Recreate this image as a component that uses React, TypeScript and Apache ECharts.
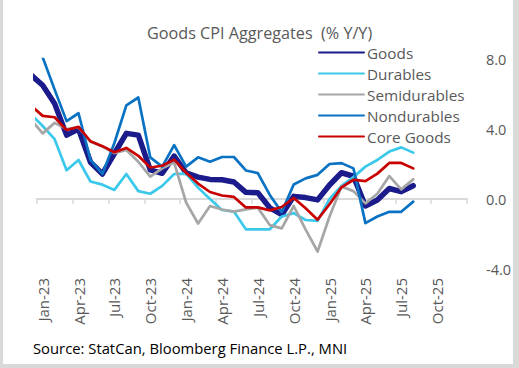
import React, { useEffect, useRef } from "react";
import * as echarts from "echarts";

// Monthly observations, Dec-22 .. Aug-25 (Dec-22 only enters the plot at its left edge)
const dataMonths = [
  "Dec-22",
  "Jan-23", "Feb-23", "Mar-23", "Apr-23", "May-23", "Jun-23", "Jul-23", "Aug-23", "Sep-23", "Oct-23", "Nov-23", "Dec-23",
  "Jan-24", "Feb-24", "Mar-24", "Apr-24", "May-24", "Jun-24", "Jul-24", "Aug-24", "Sep-24", "Oct-24", "Nov-24", "Dec-24",
  "Jan-25", "Feb-25", "Mar-25", "Apr-25", "May-25", "Jun-25", "Jul-25", "Aug-25",
];

const goods = [
  7.1,
  6.5, 5.45, 3.65, 4.0, 2.1, 1.43, 2.6, 3.75, 3.65, 1.66, 1.47, 2.45,
  1.5, 1.25, 1.12, 1.1, 0.97, 0.38, 0.36, -0.5, -0.9, 0.15, 0.08, -0.05,
  0.8, 1.5, 1.3, -0.4, -0.06, 0.6, 0.42, 0.76,
];
const durables = [
  4.85,
  4.17, 3.42, 1.64, 2.23, 1.0, 0.82, 0.52, 1.43, 0.45, 0.3, 0.75, 1.43,
  1.45, 0.65, 0.0, -0.63, -0.72, -1.73, -1.73, -1.73, -1.0, -0.81, -1.2, -1.25,
  0.0, 0.75, 1.25, 1.85, 2.23, 2.71, 2.95, 2.65,
];
const semidurables = [
  4.55,
  3.75, 4.35, 4.0, 4.1, 3.27, 3.0, 2.62, 2.8, 2.13, 1.28, 1.75, 2.08,
  -0.2, -1.4, -0.4, -0.6, -0.72, -0.59, -0.5, -1.49, -1.68, -0.4, -1.75, -3.0,
  -1.0, 0.72, 0.45, -0.25, 0.3, 1.31, 0.55, 1.12,
];
const nondurables = [
  9.5,
  8.1, 6.25, 4.45, 4.9, 2.23, 1.43, 3.2, 5.35, 5.8, 2.38, 1.85, 3.08,
  1.85, 2.38, 2.13, 2.4, 2.4, 1.63, 1.48, 0.23, -0.75, 0.83, 1.18, 1.38,
  2.0, 2.05, 1.75, -1.38, -1.0, -0.73, -0.73, -0.15,
];
const coreGoods = [
  5.35,
  4.75, 4.67, 3.94, 4.12, 3.3, 3.02, 2.67, 2.92, 2.47, 1.8, 1.9, 2.25,
  1.5, 0.88, 0.4, 0.2, 0.12, -0.48, -0.48, -0.65, -0.46, 0.06, -0.53, -1.18,
  -0.3, 0.67, 1.1, 1.02, 1.45, 2.06, 2.06, 1.75,
];

const tickLabels = [
  "Jan-23", "Apr-23", "Jul-23", "Oct-23",
  "Jan-24", "Apr-24", "Jul-24", "Oct-24",
  "Jan-25", "Apr-25", "Jul-25", "Oct-25",
];
const yTicks = [-4, 0, 4, 8];

const seriesDefs = [
  { name: "Goods", data: goods, color: "#1B1B8C", width: 5.5 },
  { name: "Durables", data: durables, color: "#3CC8EA", width: 2.7 },
  { name: "Semidurables", data: semidurables, color: "#A6A6A6", width: 2.7 },
  { name: "Nondurables", data: nondurables, color: "#0A72C2", width: 2.7 },
  { name: "Core Goods", data: coreGoods, color: "#C80000", width: 2.7 },
];

const FONT = "'Open Sans', 'Noto Sans', sans-serif";

export default function App() {
  const ref = useRef<HTMLDivElement>(null);

  useEffect(() => {
    if (!ref.current) return;
    const chart = echarts.init(ref.current, null, { renderer: "svg" });

    // 36 monthly slots Jan-23 .. Dec-25, label every quarter
    const labelCats: string[] = [];
    tickLabels.forEach((t) => {
      labelCats.push(t, "", "");
    });

    const option: any = {
      animation: false,
      backgroundColor: "#ffffff",
      textStyle: { fontFamily: FONT },
      title: {
        text: "Goods CPI Aggregates  (% Y/Y)",
        left: 142,
        top: 20,
        textStyle: { fontFamily: FONT, fontSize: 16.2, fontWeight: "normal", color: "#595959" },
      },
      legend: {
        orient: "vertical",
        left: 318,
        top: 45,
        itemWidth: 45,
        itemHeight: 14,
        itemGap: 6,
        padding: 0,
        itemStyle: { opacity: 0 },
        data: seriesDefs.map((s) => s.name),
        textStyle: {
          fontFamily: FONT,
          fontSize: 15.3,
          lineHeight: 14,
          color: "#595959",
          padding: [0, 0, 0, -2],
        },
      },
      grid: { left: 36.7, right: 52, top: 59, bottom: 99, containLabel: false },
      xAxis: [
        {
          type: "value",
          min: 0,
          max: 36,
          interval: 3,
          axisLine: { show: true, onZero: true, lineStyle: { color: "#D9D9D9", width: 2 } },
          axisTick: { show: true, inside: false, length: 5, lineStyle: { color: "#D9D9D9", width: 1.5 } },
          axisLabel: { show: false },
          splitLine: { show: false },
        },
        {
          type: "category",
          position: "bottom",
          boundaryGap: true,
          data: labelCats,
          axisLine: { show: false, onZero: false },
          axisTick: { show: false },
          splitLine: { show: false },
          axisLabel: {
            interval: 2,
            rotate: 90,
            margin: 9,
            fontFamily: FONT,
            fontSize: 15,
            color: "#595959",
          },
        },
      ],
      yAxis: {
        type: "value",
        position: "right",
        min: yTicks[0],
        max: yTicks[yTicks.length - 1],
        interval: 4,
        axisLine: { show: false },
        axisTick: { show: false },
        splitLine: { show: false },
        axisLabel: {
          margin: 19,
          align: "left",
          fontFamily: FONT,
          fontSize: 14.5,
          color: "#595959",
          formatter: (v: number) => v.toFixed(1),
        },
      },
      series: seriesDefs.map((s) => ({
        name: s.name,
        type: "line",
        xAxisIndex: 0,
        yAxisIndex: 0,
        symbol: "none",
        clip: true,
        color: s.color,
        lineStyle: { color: s.color, width: s.width, cap: "round", join: "round" },
        data: s.data.map((v, i) => [i - 0.5, v]),
      })),
      graphic: [
        {
          type: "text",
          left: 33,
          top: 340,
          style: {
            text: "Source: StatCan, Bloomberg Finance L.P., MNI",
            fontFamily: FONT,
            fontSize: 14.8,
            fill: "#000000",
          },
        },
      ],
    };
    chart.setOption(option);
    return () => chart.dispose();
  }, []);

  return (
    <div style={{ position: "absolute", left: 0, top: 0, width: 519, height: 368, background: "#fff" }}>
      <div ref={ref} style={{ position: "absolute", left: 0, top: 0, width: 519, height: 368 }} />
      <div
        style={{
          position: "absolute",
          left: 0,
          top: 0,
          width: 519,
          height: 368,
          boxSizing: "border-box",
          borderLeft: "3px solid #D9D9D9",
          borderRight: "6px solid #D9D9D9",
          borderBottom: "4px solid #D9D9D9",
          pointerEvents: "none",
        }}
      />
    </div>
  );
}
